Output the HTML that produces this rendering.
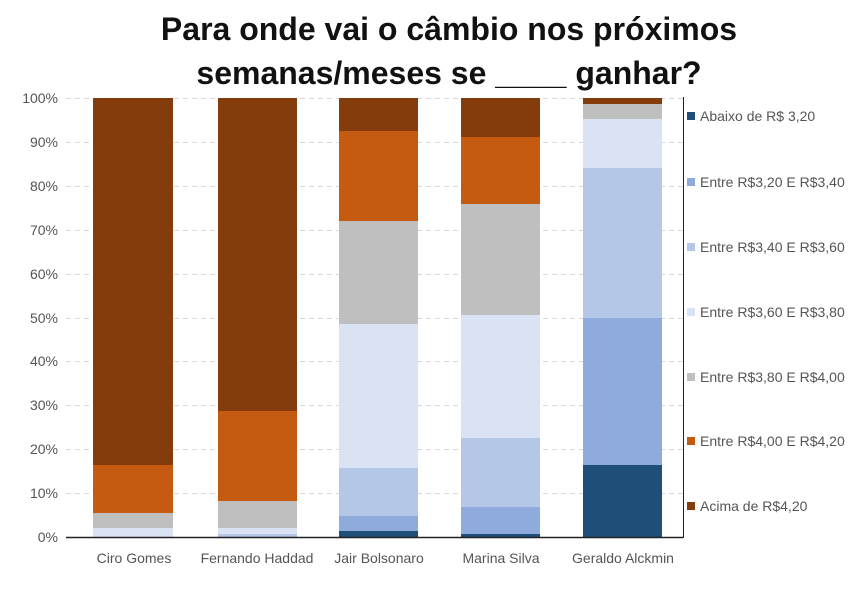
<!DOCTYPE html>
<html><head><meta charset="utf-8"><style>body{margin:0;background:#fff}</style></head><body>
<svg width="862" height="587" xmlns="http://www.w3.org/2000/svg" font-family="Liberation Sans, sans-serif">
<rect width="862" height="587" fill="#fff"/>
<text x="449" y="40" text-anchor="middle" font-size="32" font-weight="bold" fill="#111">Para onde vai o câmbio nos próximos</text>
<text x="449" y="84" text-anchor="middle" font-size="32" font-weight="bold" fill="#111">semanas/meses se ____ ganhar?</text>
<g stroke="#d9d9d9" stroke-dasharray="5,4" stroke-width="1">
<line x1="66" x2="683" y1="98.5" y2="98.5"/><line x1="66" x2="683" y1="142.5" y2="142.5"/><line x1="66" x2="683" y1="186.5" y2="186.5"/><line x1="66" x2="683" y1="230.5" y2="230.5"/><line x1="66" x2="683" y1="274.5" y2="274.5"/><line x1="66" x2="683" y1="318.5" y2="318.5"/><line x1="66" x2="683" y1="361.5" y2="361.5"/><line x1="66" x2="683" y1="405.5" y2="405.5"/><line x1="66" x2="683" y1="449.5" y2="449.5"/><line x1="66" x2="683" y1="493.5" y2="493.5"/>
</g>
<g font-size="14" fill="#555" text-anchor="end">
<text x="58" y="103">100%</text><text x="58" y="147">90%</text><text x="58" y="191">80%</text><text x="58" y="235">70%</text><text x="58" y="279">60%</text><text x="58" y="323">50%</text><text x="58" y="366">40%</text><text x="58" y="410">30%</text><text x="58" y="454">20%</text><text x="58" y="498">10%</text><text x="58" y="542">0%</text>
</g>
<rect x="93" y="98" width="80" height="367" fill="#843c0c"/>
<rect x="93" y="465" width="80" height="48" fill="#c55a11"/>
<rect x="93" y="513" width="80" height="15" fill="#bfbfbf"/>
<rect x="93" y="528" width="80" height="9" fill="#dae3f3"/>
<rect x="218" y="98" width="79" height="313" fill="#843c0c"/>
<rect x="218" y="411" width="79" height="90" fill="#c55a11"/>
<rect x="218" y="501" width="79" height="27" fill="#bfbfbf"/>
<rect x="218" y="528" width="79" height="6" fill="#dae3f3"/>
<rect x="218" y="534" width="79" height="3" fill="#b4c7e7"/>
<rect x="339" y="98" width="79" height="33" fill="#843c0c"/>
<rect x="339" y="131" width="79" height="90" fill="#c55a11"/>
<rect x="339" y="221" width="79" height="103" fill="#bfbfbf"/>
<rect x="339" y="324" width="79" height="144" fill="#dae3f3"/>
<rect x="339" y="468" width="79" height="48" fill="#b4c7e7"/>
<rect x="339" y="516" width="79" height="15" fill="#8faadc"/>
<rect x="339" y="531" width="79" height="6" fill="#1f4e79"/>
<rect x="461" y="98" width="79" height="39" fill="#843c0c"/>
<rect x="461" y="137" width="79" height="67" fill="#c55a11"/>
<rect x="461" y="204" width="79" height="111" fill="#bfbfbf"/>
<rect x="461" y="315" width="79" height="123" fill="#dae3f3"/>
<rect x="461" y="438" width="79" height="69" fill="#b4c7e7"/>
<rect x="461" y="507" width="79" height="27" fill="#8faadc"/>
<rect x="461" y="534" width="79" height="3" fill="#1f4e79"/>
<rect x="583" y="98" width="79" height="6" fill="#843c0c"/>
<rect x="583" y="104" width="79" height="15" fill="#bfbfbf"/>
<rect x="583" y="119" width="79" height="49" fill="#dae3f3"/>
<rect x="583" y="168" width="79" height="150" fill="#b4c7e7"/>
<rect x="583" y="318" width="79" height="147" fill="#8faadc"/>
<rect x="583" y="465" width="79" height="72" fill="#1f4e79"/>
<line x1="66" x2="683" y1="537.5" y2="537.5" stroke="#222" stroke-width="1.5"/>
<line x1="683.5" x2="683.5" y1="97" y2="538" stroke="#222" stroke-width="1"/>
<g font-size="14" fill="#555" text-anchor="middle">
<text x="134" y="563">Ciro Gomes</text><text x="257" y="563">Fernando Haddad</text><text x="379" y="563">Jair Bolsonaro</text><text x="501" y="563">Marina Silva</text><text x="623" y="563">Geraldo Alckmin</text>
</g>
<g font-size="14" fill="#555">
<rect x="687" y="112" width="8" height="8" fill="#1f4e79"/><text x="700" y="121">Abaixo de R$ 3,20</text>
<rect x="687" y="178" width="8" height="8" fill="#8faadc"/><text x="700" y="187">Entre R$3,20 E R$3,40</text>
<rect x="687" y="243" width="8" height="8" fill="#b4c7e7"/><text x="700" y="252">Entre R$3,40 E R$3,60</text>
<rect x="687" y="308" width="8" height="8" fill="#dae3f3"/><text x="700" y="317">Entre R$3,60 E R$3,80</text>
<rect x="687" y="373" width="8" height="8" fill="#bfbfbf"/><text x="700" y="382">Entre R$3,80 E R$4,00</text>
<rect x="687" y="437" width="8" height="8" fill="#c55a11"/><text x="700" y="446">Entre R$4,00 E R$4,20</text>
<rect x="687" y="502" width="8" height="8" fill="#843c0c"/><text x="700" y="511">Acima de R$4,20</text>
</g>
</svg>
</body></html>
